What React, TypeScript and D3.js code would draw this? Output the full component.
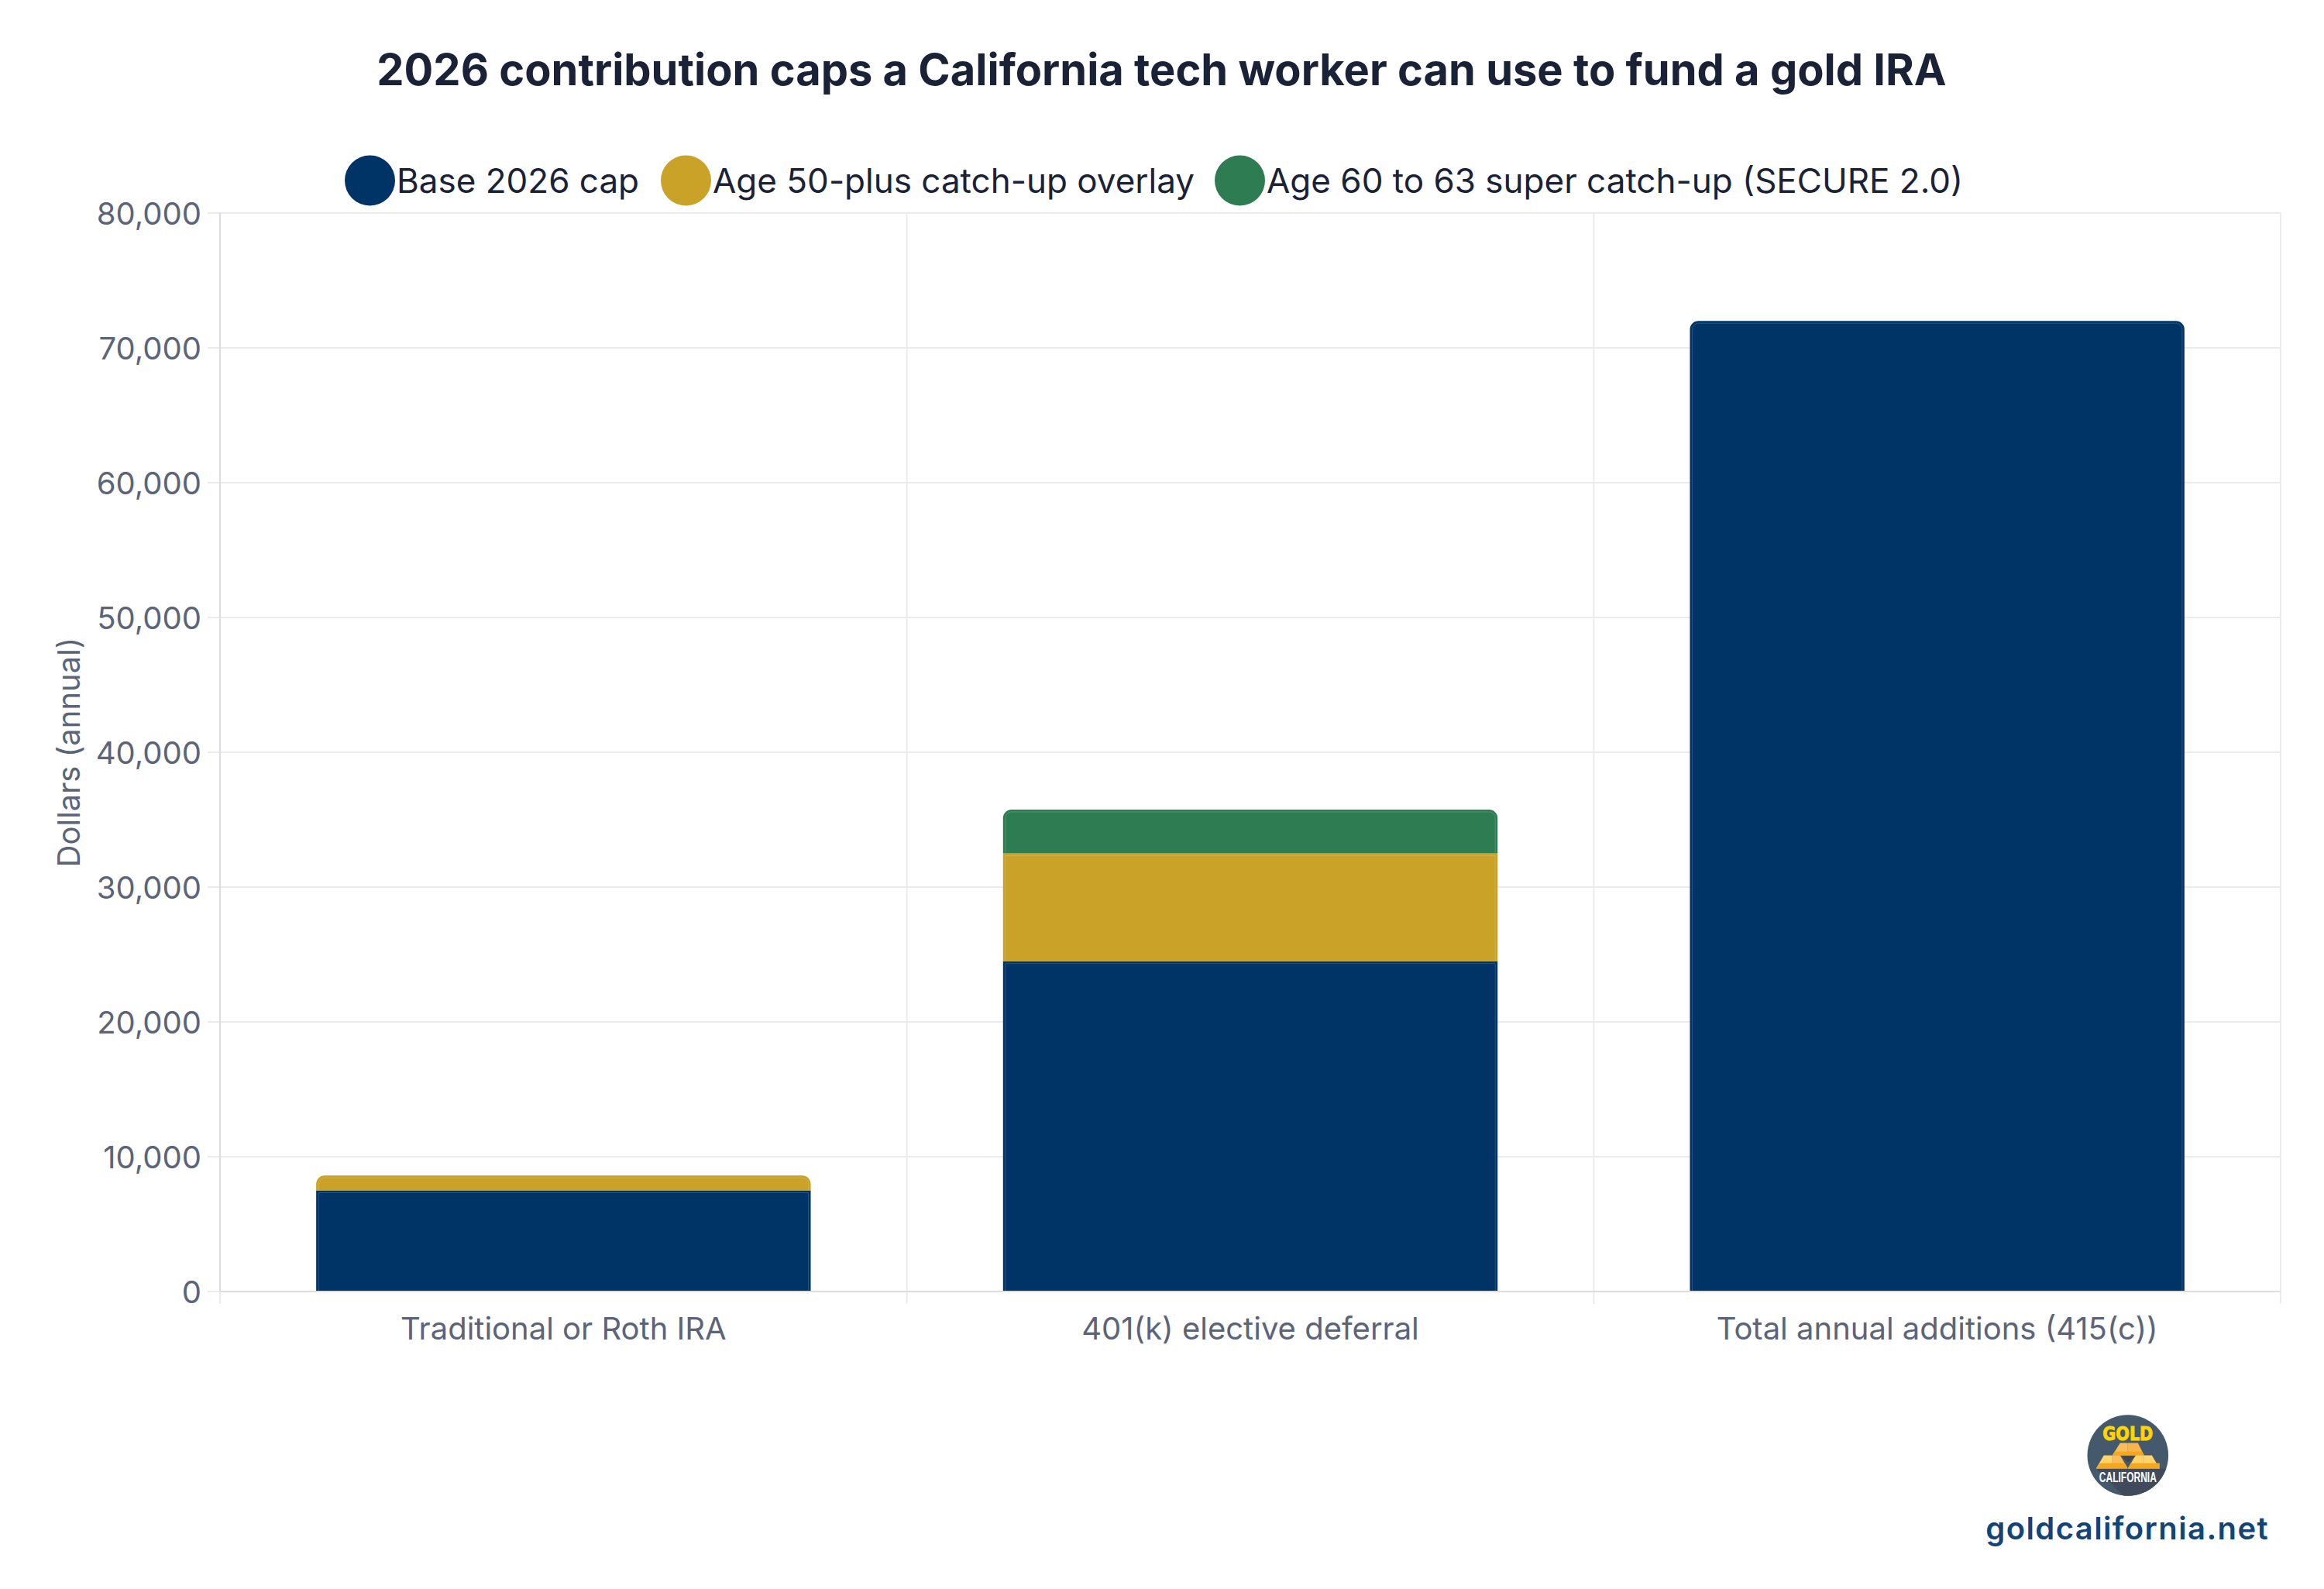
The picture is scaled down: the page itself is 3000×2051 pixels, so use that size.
import React, { useEffect, useRef } from "react";
import * as d3 from "d3";

const categories = ["Traditional or Roth IRA", "401(k) elective deferral", "Total annual additions (415(c))"];
const seriesNames = ["Base 2026 cap", "Age 50-plus catch-up overlay", "Age 60 to 63 super catch-up (SECURE 2.0)"];
const colors = ["#003366", "#C9A227", "#2E7D52"];
const baseCap = [7500, 24500, 72000];
const catchUp = [1100, 8000, 0];
const superCatchUp = [0, 3250, 0];
const yTicks = [0, 10000, 20000, 30000, 40000, 50000, 60000, 70000, 80000];

const W = 3000;
const H = 2051;
const margin = { top: 275, right: 56, bottom: 384, left: 284 };
const FONT = "Inter, sans-serif";
const legendX = [445, 853, 1568];

// rounded only on the top corners, like a stacked bar cap
const barPath = (x: number, y: number, w: number, h: number, r: number) =>
  r > 0
    ? `M${x},${y + h}V${y + r}A${r},${r} 0 0 1 ${x + r},${y}H${x + w - r}A${r},${r} 0 0 1 ${x + w},${y + r}V${y + h}Z`
    : `M${x},${y}H${x + w}V${y + h}H${x}Z`;

const GoldLogo = () => (
  <g transform="translate(2746.8,1878.5)">
    <defs>
      <clipPath id="logoClip">
        <circle r="52.3" />
      </clipPath>
    </defs>
    <circle r="52.3" fill="#44596B" />
    <path d="M-41,17L-5,53H60V17Z" fill="#414A5C" clipPath="url(#logoClip)" />
    <text y="-20" textAnchor="middle" fontFamily="'DejaVu Sans', sans-serif" fontWeight="700" fontSize="24" fill="#FFD400" stroke="#FFD400" strokeWidth="1" textLength="65" lengthAdjust="spacingAndGlyphs">GOLD</text>
    <path d="M-10,-16H0V0H-20Z" fill="#FBBC5C" />
    <path d="M0,-16H13L21,0H0Z" fill="#F9B54C" />
    <path d="M-20,0L-17,-5H18L21,0Z" fill="#F6A81C" />
    <path d="M-31,0H-20V17H-41Z" fill="#FFD56B" />
    <path d="M-20,0H-10L0,17H-20Z" fill="#FBBC5C" />
    <path d="M10,0H20V17H0Z" fill="#FFD56B" />
    <path d="M20,0H31L41,17H20Z" fill="#FFD56B" />
    <path d="M-36,10H-20V17H-41ZM-20,10H-4L0,17H-20Z" fill="#F6A81C" />
    <path d="M4,10H41V17H0Z" fill="#F6A81C" />
    <path d="M-8,1H10L0,9Z" fill="#3E4656" />
    <text y="34" textAnchor="middle" fontFamily="'Liberation Sans', sans-serif" fontWeight="700" fontSize="19" fill="#FFFFFF" textLength="74" lengthAdjust="spacingAndGlyphs">CALIFORNIA</text>
  </g>
);

export default function App() {
  const gridRef = useRef<SVGGElement>(null);
  const axisRef = useRef<SVGGElement>(null);
  const barsRef = useRef<SVGGElement>(null);

  useEffect(() => {
    const innerW = W - margin.left - margin.right;
    const innerH = H - margin.top - margin.bottom;

    const x = d3.scaleBand<string>().domain(categories).range([0, innerW]).paddingInner(0).paddingOuter(0);
    const y = d3.scaleLinear().domain([0, 80000]).range([innerH, 0]);
    const barW = x.bandwidth() * 0.72;

    const grid = d3.select(gridRef.current);
    grid.selectAll("*").remove();
    const axes = d3.select(axisRef.current);
    axes.selectAll("*").remove();
    const bars = d3.select(barsRef.current);
    bars.selectAll("*").remove();

    // Grid lines
    grid
      .selectAll("line.h")
      .data(yTicks)
      .join("line")
      .attr("x1", -16)
      .attr("x2", innerW)
      .attr("y1", (d) => y(d))
      .attr("y2", (d) => y(d))
      .attr("stroke", "#EBEBEB")
      .attr("stroke-width", 2);

    const edges = [0, 1, 2, 3].map((i) => i * x.bandwidth());
    grid
      .selectAll("line.v")
      .data(edges)
      .join("line")
      .attr("x1", (d) => d)
      .attr("x2", (d) => d)
      .attr("y1", 0)
      .attr("y2", innerH + 16)
      .attr("stroke", "#EBEBEB")
      .attr("stroke-width", 2);

    // Stacks
    const stacked = d3
      .stack<number>()
      .keys(["0", "1", "2"])
      .value((i, key) => [baseCap, catchUp, superCatchUp][+key][i])(categories.map((_, i) => i));

    stacked.forEach((layer, k) => {
      layer.forEach((seg, i) => {
        if (seg[1] === seg[0]) return;
        const bx = x(categories[i])! + (x.bandwidth() - barW) / 2;
        const top = y(seg[1]);
        const bottom = y(seg[0]);
        const isTop = stacked.slice(k + 1).every((l) => l[i][1] === l[i][0]);
        const r = isTop ? 11 : 0;
        const inset = 3;
        const ri = Math.max(r - inset, 0);
        bars.append("path").attr("d", barPath(bx, top, barW, bottom - top, r)).attr("fill", colors[k]);
        // lighter seam just inside the edge
        const arcL = ri ? `A${ri},${ri} 0 0 1 ${bx + inset + ri},${top + inset}` : "";
        const arcR = ri ? `A${ri},${ri} 0 0 1 ${bx + barW - inset},${top + inset + ri}` : "";
        bars
          .append("path")
          .attr(
            "d",
            `M${bx + inset},${bottom}V${top + inset + ri}${arcL}H${bx + barW - inset - ri}${arcR}V${bottom}`
          )
          .attr("fill", "none")
          .attr("stroke", "#FFFFFF")
          .attr("stroke-opacity", 0.16)
          .attr("stroke-width", 1);
      });
    });

    // Axes
    const yAxis = axes
      .append("g")
      .call(d3.axisLeft(y).tickValues(yTicks).tickSize(0).tickPadding(24).tickFormat((d) => d3.format(",")(d as number)));
    yAxis.select(".domain").attr("stroke", "#DDDDDD").attr("stroke-width", 2).attr("d", `M0,0V${innerH}`);
    yAxis.selectAll("text").attr("font-family", FONT).attr("font-size", 40).attr("fill", "#5B6478").attr("dy", "0.37em");

    const xAxis = axes
      .append("g")
      .attr("transform", `translate(0,${innerH})`)
      .call(d3.axisBottom(x).tickSize(0).tickPadding(34));
    xAxis.select(".domain").attr("stroke", "#DDDDDD").attr("stroke-width", 2).attr("d", `M0,0H${innerW}`);
    xAxis.selectAll("text").attr("font-family", FONT).attr("font-size", 40).attr("fill", "#5B6478");
  }, []);

  return (
    <svg width={W} height={H} viewBox={`0 0 ${W} ${H}`} style={{ position: "absolute", left: 0, top: 0, display: "block", background: "#fff" }}>
      <text x={1499.5} y={110} textAnchor="middle" fontFamily={FONT} fontWeight={700} fontSize={56} fill="#1A2238">
        2026 contribution caps a California tech worker can use to fund a gold IRA
      </text>
      <g transform={`translate(${margin.left},${margin.top})`}>
        <g ref={gridRef} />
        <g ref={barsRef} />
        <g ref={axisRef} />
      </g>
      {seriesNames.map((name, i) => (
        <g key={name}>
          <circle cx={legendX[i] + 32.5} cy={233} r={32.5} fill={colors[i]} />
          <text x={legendX[i] + 67} y={249} fontFamily={FONT} fontSize={44} fill="#1A2238">
            {name}
          </text>
        </g>
      ))}
      <text x={103} y={971} transform="rotate(-90 103 971)" textAnchor="middle" fontFamily={FONT} fontSize={40} fill="#5B6478">
        Dollars (annual)
      </text>
      <GoldLogo />
      <text x={2929} y={1987} textAnchor="end" fontFamily={FONT} fontWeight={600} fontSize={40} letterSpacing={1.4} fill="#134477">
        goldcalifornia.net
      </text>
    </svg>
  );
}
